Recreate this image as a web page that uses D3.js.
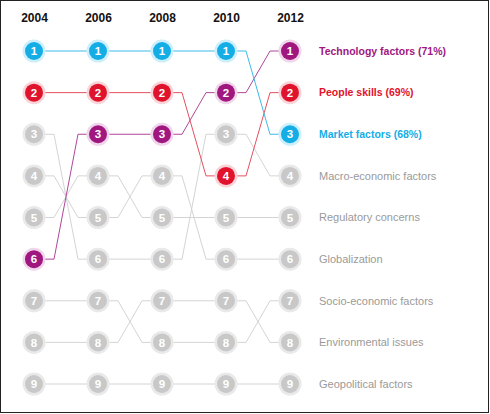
<!DOCTYPE html>
<html>
<head>
<meta charset="utf-8">
<script src="https://cdn.jsdelivr.net/npm/d3@7"></script>
<style>
  html, body { margin: 0; padding: 0; background: #fff; }
  svg { display: block; }
</style>
</head>
<body>
<svg id="chart" width="490" height="414"></svg>
<script>
// ---- data ----
const years = ["2004", "2006", "2008", "2010", "2012"];
const factorNames = [
  "Technology factors (71%)",
  "People skills (69%)",
  "Market factors (68%)",
  "Macro-economic factors",
  "Regulatory concerns",
  "Globalization",
  "Socio-economic factors",
  "Environmental issues",
  "Geopolitical factors"
];
// rank of each factor in each year (2004..2012)
const technologyRanks   = [6, 3, 3, 2, 1];
const peopleRanks       = [2, 2, 2, 4, 2];
const marketRanks       = [1, 1, 1, 1, 3];
const macroRanks        = [3, 6, 6, 3, 4];
const regulatoryRanks   = [5, 4, 5, 5, 5];
const globalRanks       = [4, 5, 4, 6, 6];
const socioRanks        = [7, 7, 8, 8, 7];
const environmentRanks  = [8, 8, 7, 7, 8];
const geopoliticalRanks = [9, 9, 9, 9, 9];
const rankTicks = [1, 2, 3, 4, 5, 6, 7, 8, 9];

const allRanks = [technologyRanks, peopleRanks, marketRanks, macroRanks, regulatoryRanks,
                  globalRanks, socioRanks, environmentRanks, geopoliticalRanks];
const palette = {
  0: {main: "#a0177f", halo: "#f0d6ea", line: "#b0479a"},
  1: {main: "#e1122b", halo: "#f8d3d7", line: "#e5505f"},
  2: {main: "#14ade6", halo: "#cdeefb", line: "#3cbbea"}
};
const grey = {main: "#c8c8c8", halo: "#e9e9e9", line: "#d4d4d4"};

const factors = factorNames.map((name, i) => ({
  name, ranks: allRanks[i], colors: palette[i] || grey, highlight: i < 3
}));

// ---- layout ----
const svg = d3.select("#chart");
const x = d3.scalePoint().domain(years).range([34, 290]);
const y = d3.scalePoint().domain(rankTicks).range([51, 384]);
const stub = 20;

svg.append("rect").attr("x", 0.5).attr("y", 0.5).attr("width", 488).attr("height", 412)
  .attr("fill", "#fff").attr("stroke", "#222").attr("stroke-width", 1);

// year labels (top axis)
const axis = d3.axisTop(x).tickSize(0).tickPadding(0);
const gAxis = svg.append("g").attr("transform", "translate(0,22)").call(axis);
gAxis.select(".domain").remove();
gAxis.selectAll("text")
  .attr("font-family", "Liberation Sans, Arial, sans-serif")
  .attr("font-size", 12).attr("font-weight", "bold").attr("fill", "#111")
  .attr("dy", 0);

function pathFor(ranks) {
  const p = d3.path();
  ranks.forEach((r, i) => {
    const xi = x(years[i]), yi = y(r);
    if (i === 0) p.moveTo(xi, yi);
    else {
      const xp = x(years[i - 1]), yp = y(ranks[i - 1]);
      p.lineTo(xp + stub, yp);
      p.lineTo(xi - stub, yi);
      p.lineTo(xi, yi);
    }
  });
  return p.toString();
}

const order = factors.slice().sort((a, b) => (a.highlight - b.highlight));
// lines
svg.append("g").selectAll("path").data(order).join("path")
  .attr("d", d => pathFor(d.ranks))
  .attr("fill", "none")
  .attr("stroke", d => d.colors.line)
  .attr("stroke-width", 1);

// nodes
const nodes = [];
order.forEach(f => f.ranks.forEach((r, i) => nodes.push({f, r, year: years[i]})));
const gN = svg.append("g").selectAll("g").data(nodes).join("g")
  .attr("transform", d => `translate(${x(d.year)},${y(d.r)})`);
gN.append("circle").attr("r", 11.5).attr("fill", d => d.f.colors.halo);
gN.append("circle").attr("r", 9).attr("fill", d => d.f.colors.main);
gN.append("text").text(d => d.r)
  .attr("text-anchor", "middle").attr("dy", "0.36em")
  .attr("font-family", "Liberation Sans, Arial, sans-serif")
  .attr("font-size", 11.5).attr("font-weight", "bold").attr("fill", "#fff");

// right labels
svg.append("g").selectAll("text").data(factors).join("text")
  .attr("x", 319).attr("y", d => y(d.ranks[4])).attr("dy", "0.36em")
  .attr("font-family", "Liberation Sans, Arial, sans-serif")
  .attr("font-size", d => d.highlight ? 10.5 : 11)
  .attr("font-weight", d => d.highlight ? "bold" : "normal")
  .attr("fill", d => d.highlight ? d.colors.main : "#9a9a9a")
  .text(d => d.name);
</script>
</body>
</html>
